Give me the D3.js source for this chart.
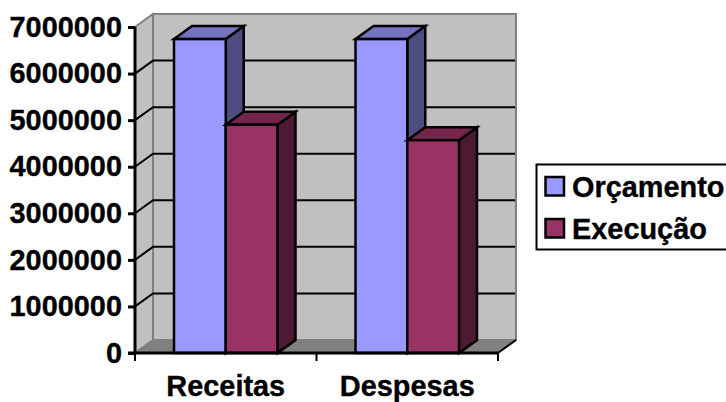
<!DOCTYPE html>
<html><head><meta charset="utf-8">
<script src="https://cdn.jsdelivr.net/npm/d3@7"></script>
<style>
html,body{margin:0;padding:0;background:#fff;overflow:hidden}
svg{display:block}
text{font-family:"Liberation Sans",Arial,sans-serif;font-weight:700;fill:#000;font-size:28.9px;stroke:#000;stroke-width:.35px}
</style></head><body>
<svg id="chart" width="726" height="402"></svg>
<script>
const categories = ["Receitas", "Despesas"];
const seriesNames = ["Orçamento", "Execução"];
const orcamento = [6740000, 6740000];
const execucao = [4900000, 4570000];
const yTicks = [0, 1000000, 2000000, 3000000, 4000000, 5000000, 6000000, 7000000];
const frontColors = ["#9999ff", "#993366"];
const sideColors = ["#4d4d80", "#4d1a33"];
const topColors = ["#7373bf", "#732649"];

const svg = d3.select("#chart");
const depth = {x: 18, y: -13};
const y = d3.scaleLinear().domain([0, 7000000]).range([353, 27]);
const x0 = d3.scaleBand().domain(categories).range([135, 498]);
const x1 = d3.scaleBand().domain(seriesNames).range([39, 142.5]);
const [xL, xR] = x0.range();
const yB = y(0), yT = y(7000000);
const poly = pts => pts.map(p => p.join(",")).join(" ");

// Walls and floor of the 3D box
svg.append("polygon").attr("points", poly([[xL + depth.x, yT + depth.y], [xR + depth.x, yT + depth.y], [xR + depth.x, yB + depth.y], [xL + depth.x, yB + depth.y]]))
  .attr("fill", "#c0c0c0").attr("stroke", "#808080").attr("stroke-width", 2);
svg.append("polygon").attr("points", poly([[xL, yT], [xL + depth.x, yT + depth.y], [xL + depth.x, yB + depth.y], [xL, yB]]))
  .attr("fill", "#c0c0c0").attr("stroke", "#808080").attr("stroke-width", 2);
svg.append("polygon").attr("points", poly([[xL, yB], [xL + depth.x, yB + depth.y], [xR + depth.x, yB + depth.y], [xR, yB]]))
  .attr("fill", "#808080").attr("stroke", "#808080").attr("stroke-width", 1);

// Gridlines run along the side wall and the back wall
const gridTicks = yTicks.filter(d => d > 0 && d < 7000000);
svg.append("g").selectAll("polyline").data(gridTicks).join("polyline")
  .attr("points", d => poly([[xL, y(d)], [xL + depth.x, y(d) + depth.y], [xR + depth.x - 1, y(d) + depth.y]]))
  .attr("fill", "none").attr("stroke", "#000").attr("stroke-width", 2);
svg.append("line").attr("x1", xR).attr("y1", yB).attr("x2", xR + depth.x).attr("y2", yB + depth.y)
  .attr("stroke", "#000").attr("stroke-width", 2);
svg.append("line").attr("x1", xL).attr("y1", yB).attr("x2", xL + depth.x).attr("y2", yB + depth.y)
  .attr("stroke", "#808080").attr("stroke-width", 1.5);

// Bars: front, side and top faces
const rows = categories.flatMap((c, i) => [
  {cat: c, s: 0, v: orcamento[i]},
  {cat: c, s: 1, v: execucao[i]}
]);
const bars = svg.append("g").selectAll("g").data(rows).join("g")
  .attr("stroke", "#000").attr("stroke-width", 2.5).attr("stroke-linejoin", "miter");
const left = d => x0(d.cat) + x1(seriesNames[d.s]);
const right = d => left(d) + x1.bandwidth();
bars.append("polygon").attr("fill", d => sideColors[d.s])
  .attr("points", d => poly([[right(d), y(d.v)], [right(d) + depth.x, y(d.v) + depth.y], [right(d) + depth.x, yB + depth.y], [right(d), yB]]));
bars.append("polygon").attr("fill", d => topColors[d.s])
  .attr("points", d => poly([[left(d), y(d.v)], [left(d) + depth.x, y(d.v) + depth.y], [right(d) + depth.x, y(d.v) + depth.y], [right(d), y(d.v)]]));
bars.append("rect").attr("fill", d => frontColors[d.s])
  .attr("x", left).attr("y", d => y(d.v)).attr("width", x1.bandwidth()).attr("height", d => yB - y(d.v));

// Value axis
const yAxis = svg.append("g").attr("transform", `translate(${xL},0)`)
  .call(d3.axisLeft(y).tickValues(yTicks).tickFormat(d3.format("d")).tickSize(7).tickPadding(6));
yAxis.selectAll(".domain").attr("stroke", "#000").attr("stroke-width", 3).attr("d", `M0,${yT}V${yB}`);
yAxis.selectAll(".tick line").attr("stroke", "#000").attr("stroke-width", 3);
yAxis.attr("font-size", null).attr("font-family", null);

// Category axis, with ticks at the band boundaries
svg.append("line").attr("x1", xL - 7).attr("x2", xR).attr("y1", yB).attr("y2", yB).attr("stroke", "#000").attr("stroke-width", 3);
svg.append("g").selectAll("line").data([xL, x0(categories[1]), xR]).join("line")
  .attr("x1", d => d).attr("x2", d => d).attr("y1", yB).attr("y2", yB + 8)
  .attr("stroke", "#000").attr("stroke-width", 2);
svg.append("g").selectAll("text").data(categories).join("text")
  .attr("x", d => x0(d) + x0.bandwidth() / 2).attr("y", 395.5).attr("text-anchor", "middle").text(d => d);

// Legend
const legend = svg.append("g");
legend.append("rect").attr("x", 536.5).attr("y", 164.5).attr("width", 200).attr("height", 85)
  .attr("fill", "#fff").attr("stroke", "#000").attr("stroke-width", 2);
const legendRow = d3.scalePoint().domain(seriesNames).range([186.5, 228.5]);
const items = legend.selectAll("g").data(seriesNames).join("g");
items.append("rect").attr("x", 545.5).attr("y", d => legendRow(d) - 9.5).attr("width", 18.5).attr("height", 18.5)
  .attr("fill", (d, i) => frontColors[i]).attr("stroke", "#000").attr("stroke-width", 2.5);
items.append("text").attr("x", 572).attr("y", d => legendRow(d) + 10).text(d => d);
</script>
</body></html>
